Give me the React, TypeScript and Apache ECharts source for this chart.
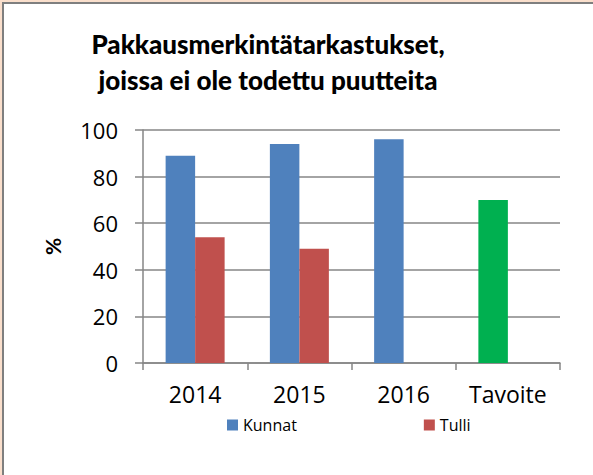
import React, { useEffect, useRef } from "react";
import * as echarts from "echarts";

const categories = ["2014", "2015", "2016", "Tavoite"];
const kunnat = [89, 94, 96, 70];
const tulli = [54, 49, null, null];
const yTicks = [0, 20, 40, 60, 80, 100];
const titleLines = ["Pakkausmerkintätarkastukset,", "joissa ei ole todettu puutteita"];

const TITLE_FONT = "Lato, 'Liberation Sans', sans-serif";
const FONT = "'Open Sans', 'Liberation Sans', sans-serif";

export default function App() {
  const ref = useRef<HTMLDivElement>(null);
  useEffect(() => {
    if (!ref.current) return;
    const chart = echarts.init(ref.current, null, { renderer: "svg" });
    chart.setOption({
      animation: false,
      backgroundColor: "transparent",
      textStyle: { fontFamily: FONT },
      title: {
        text: titleLines.join("\n"),
        left: 263,
        top: 21,
        textAlign: "center",
        textStyle: { fontSize: 26, fontWeight: 900, color: "#000", lineHeight: 36, fontFamily: TITLE_FONT },
      },
      legend: {
        data: ["Kunnat", "Tulli"],
        top: 417,
        left: 227,
        padding: 0,
        itemWidth: 11,
        itemHeight: 11,
        itemGap: 127,
        icon: "rect",
        textStyle: { fontSize: 16, color: "#000", fontFamily: FONT },
      },
      grid: { left: 143, right: 33, top: 130, bottom: 112, containLabel: false },
      xAxis: {
        type: "category",
        data: categories,
        axisLine: { lineStyle: { color: "#868686", width: 1.5 } },
        axisTick: { show: true, length: 7, alignWithLabel: false, lineStyle: { color: "#868686", width: 1.5 } },
        axisLabel: { fontSize: 23, color: "#000", margin: 19, fontFamily: FONT },
      },
      yAxis: {
        type: "value",
        min: yTicks[0],
        max: yTicks[yTicks.length - 1],
        interval: 20,
        name: "%",
        nameLocation: "middle",
        nameGap: 80,
        nameRotate: 90,
        nameTextStyle: { fontSize: 21, fontWeight: "bold", color: "#000", fontFamily: TITLE_FONT },
        axisLine: { show: true, lineStyle: { color: "#868686", width: 1.5 } },
        axisTick: { show: true, length: 8, lineStyle: { color: "#868686", width: 1.5 } },
        axisLabel: { fontSize: 22, color: "#000", margin: 25, fontFamily: FONT },
        splitLine: { show: true, lineStyle: { color: "#868686", width: 1.5 } },
      },
      series: [
        {
          name: "Kunnat",
          type: "bar",
          barWidth: 29.5,
          barGap: "0%",
          itemStyle: { color: "#4f81bd" },
          data: kunnat.map((v, i) =>
            categories[i] === "Tavoite" ? { value: v, itemStyle: { color: "#00b050" } } : v
          ),
        },
        {
          name: "Tulli",
          type: "bar",
          barWidth: 29.5,
          barGap: "0%",
          itemStyle: { color: "#c0504d" },
          data: tulli,
        },
      ],
    });
    return () => chart.dispose();
  }, []);

  return (
    <div style={{ position: "fixed", left: 0, top: 0, width: 593, height: 475, background: "#fadfcc", overflow: "hidden" }}>
      <div
        style={{
          position: "absolute",
          left: 2,
          top: 2,
          width: 591,
          height: 473,
          background: "#fff",
          borderLeft: "2px solid #7f7f7f",
          borderTop: "2px solid #7f7f7f",
          boxSizing: "border-box",
        }}
      />
      <div ref={ref} style={{ position: "absolute", left: 0, top: 0, width: 593, height: 475 }} />
    </div>
  );
}
